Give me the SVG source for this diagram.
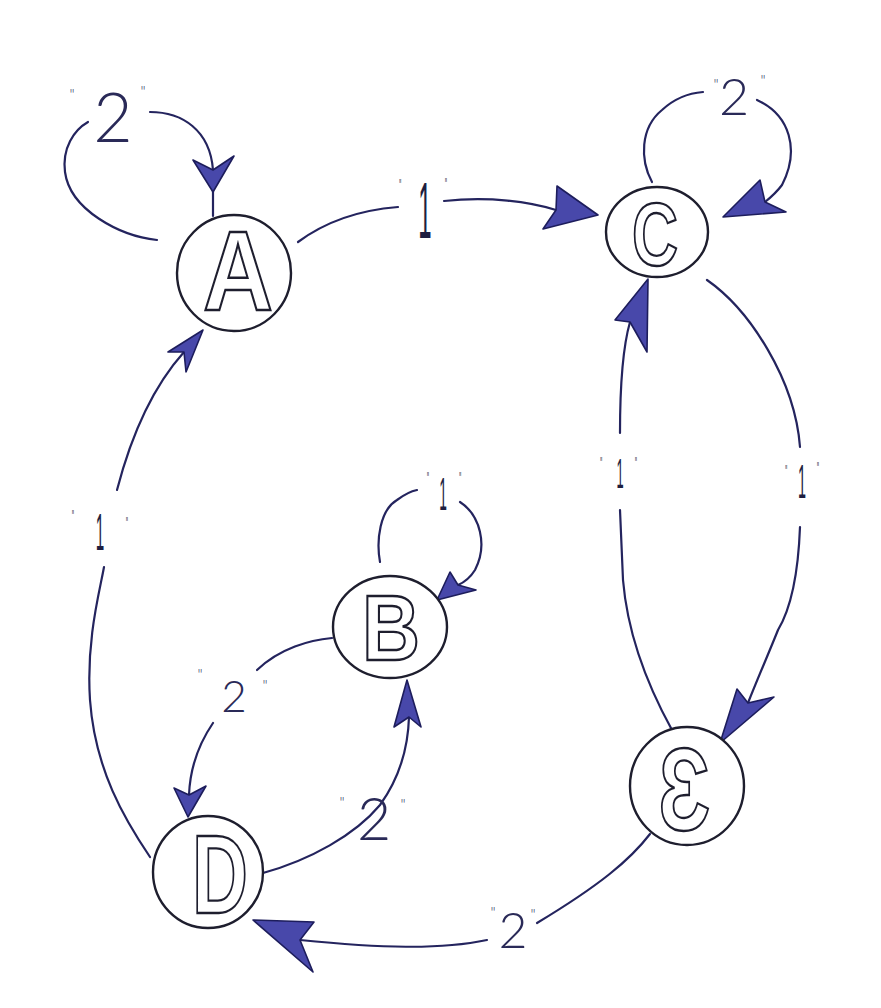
<svg xmlns="http://www.w3.org/2000/svg" width="881" height="1008" viewBox="0 0 881 1008">
<style>
.bg{fill:#ffffff}
.node{fill:#ffffff;stroke:#1e1e2e;stroke-width:2.4}
.let{font-family:"Liberation Sans","DejaVu Sans",sans-serif;font-weight:bold;fill:#ffffff;stroke:#1e1e2e;stroke-width:2.4;text-anchor:middle}
.edge{fill:none;stroke:#24245e;stroke-width:2.2;stroke-linecap:round}
.ah{fill:#4848aa;stroke:#1d1d5c;stroke-width:1.6;stroke-linejoin:round}
.lbl{font-family:"Lato","Liberation Sans",sans-serif;font-weight:300;fill:#2a2a58;text-anchor:middle}
.one{font-family:"Liberation Sans",sans-serif;font-weight:normal;fill:#1e1e40;text-anchor:middle}
.q{font-size:15px}
.q1{font-size:18px}
</style>
<rect class="bg" x="0" y="0" width="881" height="1008"/>
<g id="connectors">
  <g id="e-A-A">
    <path class="edge" d="M157,240 C120,236 70,210 65,172 C62,148 74,130 88,122"/>
    <path class="edge" d="M150,112 C182,112 210,130 213,170"/>
    <path class="edge" d="M213,190 L213,216"/>
    <polygon class="ah" points="213,192 193,160 213,170 234,156"/>
  </g>
  <g id="e-A-C">
    <path class="edge" d="M298,242 C325,222 360,210 398,207"/>
    <path class="edge" d="M444,201 C490,196 530,202 556,210"/>
    <polygon class="ah" points="598,215 557,186 556,210 543,229"/>
  </g>
  <g id="e-C-C">
    <path class="edge" d="M652,182 C640,160 640,128 662,110 C675,98 690,93 703,92"/>
    <path class="edge" d="M757,100 C790,115 800,150 782,185 C776,193 770,198 765,202"/>
    <polygon class="ah" points="723,217 760,180 765,202 786,212"/>
  </g>
  <g id="e-E-C">
    <path class="edge" d="M672,730 C650,690 628,640 623,580 L620,510"/>
    <path class="edge" d="M620,433 C620,390 622,350 630,322"/>
    <polygon class="ah" points="648,279 615,320 630,322 647,352"/>
  </g>
  <g id="e-C-E">
    <path class="edge" d="M707,280 C750,310 795,380 800,447"/>
    <path class="edge" d="M800,527 C798,580 790,610 778,630 C768,655 757,680 748,703"/>
    <polygon class="ah" points="720,743 737,689 748,703 774,697"/>
  </g>
  <g id="e-D-A">
    <path class="edge" d="M150,857 C125,820 95,770 90,700 C86,640 100,590 104,567"/>
    <path class="edge" d="M117,490 C130,440 150,390 184,352"/>
    <polygon class="ah" points="203,330 168,352 184,352 186,372"/>
  </g>
  <g id="e-B-B">
    <path class="edge" d="M380,562 C376,540 380,510 397,500 C405,494 412,491 417,490"/>
    <path class="edge" d="M460,502 C480,515 488,545 475,570 C470,578 465,582 458,585"/>
    <polygon class="ah" points="437,600 450,572 458,585 476,590"/>
  </g>
  <g id="e-B-D">
    <path class="edge" d="M332,638 C310,640 280,648 257,670"/>
    <path class="edge" d="M213,723 C198,745 190,770 189,795"/>
    <polygon class="ah" points="188,817 174,788 189,795 206,786"/>
  </g>
  <g id="e-D-B">
    <path class="edge" d="M263,873 C310,860 355,835 380,805 C398,780 408,750 409,717"/>
    <polygon class="ah" points="407,680 394,727 409,717 421,727"/>
  </g>
  <g id="e-E-D">
    <path class="edge" d="M650,834 C630,860 600,885 537,923"/>
    <path class="edge" d="M487,940 C440,950 380,948 300,940"/>
    <polygon class="ah" points="253,920 314,922 300,940 313,972"/>
  </g>
</g>
<g id="labels">
  <text class="lbl"><tspan class="q" x="72" y="100">"</tspan><tspan x="113" y="142" font-size="68">2</tspan><tspan class="q" x="143" y="97">"</tspan></text>
  <text class="one" transform="translate(425,0) scale(0.3,1)"><tspan class="q1" x="-83" y="192">"</tspan><tspan x="0" y="238" font-size="80">1</tspan><tspan class="q1" x="70" y="191">"</tspan></text>
  <text class="lbl"><tspan class="q" x="716" y="90">"</tspan><tspan x="734" y="115" font-size="52">2</tspan><tspan class="q" x="763" y="86">"</tspan></text>
  <text class="one" transform="translate(620,0) scale(0.3,1)"><tspan class="q1" x="-63" y="470">"</tspan><tspan x="0" y="488" font-size="43">1</tspan><tspan class="q1" x="53" y="470">"</tspan></text>
  <text class="one" transform="translate(802,0) scale(0.3,1)"><tspan class="q1" x="-53" y="478">"</tspan><tspan x="0" y="498" font-size="48">1</tspan><tspan class="q1" x="53" y="475">"</tspan></text>
  <text class="one" transform="translate(100,0) scale(0.3,1)"><tspan class="q1" x="-90" y="523">"</tspan><tspan x="0" y="550" font-size="51">1</tspan><tspan class="q1" x="90" y="530">"</tspan></text>
  <text class="one" transform="translate(443,0) scale(0.3,1)"><tspan class="q1" x="-50" y="485">"</tspan><tspan x="0" y="510" font-size="46">1</tspan><tspan class="q1" x="57" y="485">"</tspan></text>
  <text class="lbl"><tspan class="q" x="200" y="680">"</tspan><tspan x="234" y="712" font-size="44">2</tspan><tspan class="q" x="265" y="691">"</tspan></text>
  <text class="lbl"><tspan class="q" x="342" y="808">"</tspan><tspan x="374" y="840" font-size="59">2</tspan><tspan class="q" x="403" y="810">"</tspan></text>
  <text class="lbl"><tspan class="q" x="493" y="918">"</tspan><tspan x="513" y="948" font-size="50">2</tspan><tspan class="q" x="533" y="920">"</tspan></text>
</g>
<g id="node-A">
  <ellipse class="node" cx="234" cy="273" rx="57" ry="58"/>
  <text class="let" x="238" y="310" font-size="114" textLength="70" lengthAdjust="spacingAndGlyphs">A</text>
</g>
<g id="node-C">
  <ellipse class="node" cx="657" cy="232" rx="51" ry="45"/>
  <text class="let" x="655" y="265" font-size="89" textLength="46" lengthAdjust="spacingAndGlyphs">C</text>
</g>
<g id="node-B">
  <ellipse class="node" cx="390" cy="627" rx="57" ry="51"/>
  <text class="let" x="391" y="660" font-size="93" textLength="58" lengthAdjust="spacingAndGlyphs">B</text>
</g>
<g id="node-D">
  <ellipse class="node" cx="208" cy="872" rx="55" ry="56"/>
  <text class="let" x="220" y="913" font-size="111" textLength="56" lengthAdjust="spacingAndGlyphs">D</text>
</g>
<g id="node-E">
  <ellipse class="node" cx="687" cy="786" rx="57" ry="59"/>
  <text class="let" x="684" y="830" font-size="116" textLength="52" lengthAdjust="spacingAndGlyphs">Ɛ</text>
</g>
</svg>
